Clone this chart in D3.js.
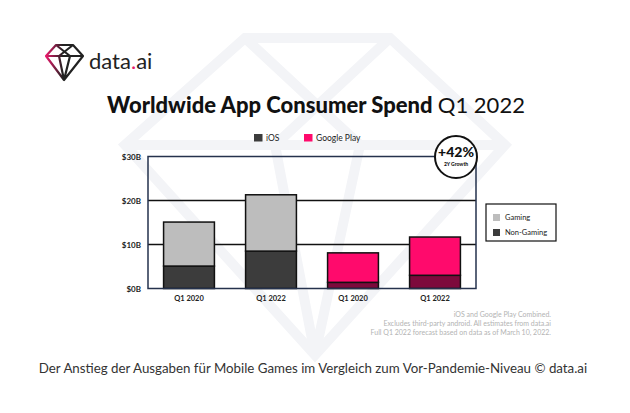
<!DOCTYPE html>
<html>
<head>
<meta charset="utf-8">
<script src="https://cdn.jsdelivr.net/npm/d3@7"></script>
<style>
  body { margin: 0; background: #fff; }
  svg { display: block; }
</style>
</head>
<body>
<div id="main"></div>
<script>
// values, in billions USD
var platforms = ["iOS", "iOS", "Google Play", "Google Play"];
var quarters = ["Q1 2020", "Q1 2022", "Q1 2020", "Q1 2022"];
var nonGaming = [5.1, 8.5, 1.4, 3.0];
var gaming = [10.0, 12.8, 6.7, 8.7];
var yTicks = [0, 10, 20, 30];
var yTickLabels = ["$0B", "$10B", "$20B", "$30B"];
var notes = [
    "iOS and Google Play Combined.",
    "Excludes third-party android. All estimates from data.ai",
    "Full Q1 2022 forecast based on data as of March 10, 2022."
];

var colors = {
    "iOS": { gaming: "#bdbdbd", nonGaming: "#3c3c3c" },
    "Google Play": { gaming: "#ff0a6c", nonGaming: "#7d0a3c" }
};

var width = 630, height = 413;
var plot = {left: 148, right: 476, top: 156.5, bottom: 288.5};

var svg = d3.select("#main")
    .append("svg")
    .attr("width", width)
    .attr("height", height);

// faint diamond watermark behind everything
var wm = svg.append("g")
    .attr("fill", "none")
    .attr("stroke", "#f3f4f7")
    .attr("stroke-width", 10)
    .attr("stroke-linejoin", "miter");
wm.append("path").attr("d", "M245,38L390,38L505,145L315,355L125,145Z");
wm.append("path").attr("d", "M245,38L360,145M390,38L275,145M125,145L505,145M275,145L315,355M360,145L315,355");

// logo
var logo = svg.append("g").attr("transform", "translate(46,45)");
var grad = svg.append("defs").append("linearGradient")
    .attr("id", "logoGrad").attr("x1", "0").attr("x2", "1");
grad.append("stop").attr("offset", "0").attr("stop-color", "#e8196a");
grad.append("stop").attr("offset", "0.45").attr("stop-color", "#222");
logo.append("path")
    .attr("d", "M10,0L27,0L37,11L18,35L0,11Z M10,0L24,11L18,35 M27,0L13,11L18,35 M0,11L37,11")
    .attr("fill", "none")
    .attr("stroke", "url(#logoGrad)")
    .attr("stroke-width", 2.2)
    .attr("stroke-linejoin", "round");
var logoText = svg.append("text")
    .attr("x", 89).attr("y", 69)
    .attr("font-family", "Lato, 'Open Sans', sans-serif")
    .attr("font-size", 22)
    .attr("fill", "#222");
logoText.append("tspan").text("data");
logoText.append("tspan").attr("fill", "#e8196a").text(".");
logoText.append("tspan").text("ai");

// title
var title = svg.append("text")
    .attr("x", 316).attr("y", 113)
    .attr("text-anchor", "middle")
    .attr("font-family", "Lato, 'Open Sans', sans-serif")
    .attr("font-size", 22)
    .attr("fill", "#111");
title.append("tspan").attr("font-weight", 900).text("Worldwide App Consumer Spend ");
title.append("tspan").attr("font-weight", 400).text("Q1 2022");

// scales
var x = d3.scaleBand()
    .domain(d3.range(quarters.length))
    .range([plot.left, plot.right])
    .paddingInner(0.38)
    .paddingOuter(0.19);

var y = d3.scaleLinear()
    .domain([0, 30])
    .range([plot.bottom, plot.top]);

// gridlines
svg.append("g").selectAll("line")
    .data(yTicks.slice(1, 3))
    .enter().append("line")
    .attr("x1", plot.left).attr("x2", plot.right)
    .attr("y1", function(d) { return y(d); })
    .attr("y2", function(d) { return y(d); })
    .attr("stroke", "#111")
    .attr("stroke-width", 1.5);

// y axis labels
svg.append("g").selectAll("text")
    .data(yTicks)
    .enter().append("text")
    .attr("x", 141)
    .attr("y", function(d) { return y(d) + 3; })
    .attr("text-anchor", "end")
    .attr("font-family", "Lato, sans-serif")
    .attr("font-weight", 700)
    .attr("font-size", 8)
    .attr("fill", "#222")
    .text(function(d, i) { return yTickLabels[i]; });

// stacked bars
var rows = quarters.map(function(q, i) {
    return {i: i, platform: platforms[i], nonGaming: nonGaming[i], gaming: gaming[i]};
});
var stack = d3.stack().keys(["nonGaming", "gaming"]);
var series = stack(rows);

svg.append("g").selectAll("g")
    .data(series)
    .enter().append("g")
    .each(function(s) {
        d3.select(this).selectAll("rect")
            .data(s)
            .enter().append("rect")
            .attr("x", function(d) { return x(d.data.i); })
            .attr("width", x.bandwidth())
            .attr("y", function(d) { return y(d[1]); })
            .attr("height", function(d) { return y(d[0]) - y(d[1]); })
            .attr("fill", function(d) { return colors[d.data.platform][s.key]; })
            .attr("stroke", "#111")
            .attr("stroke-width", 1.5);
    });

// frame: left axis, top, right and baseline
svg.append("path")
    .attr("d", "M" + plot.left + "," + plot.top + "V" + plot.bottom + "H" + plot.right + "V" + plot.top + "Z")
    .attr("fill", "none")
    .attr("stroke", "#25324d")
    .attr("stroke-width", 1.5);

// category labels
svg.append("g").selectAll("text")
    .data(quarters)
    .enter().append("text")
    .attr("x", function(d, i) { return x(i) + x.bandwidth() / 2; })
    .attr("y", 301)
    .attr("text-anchor", "middle")
    .attr("font-family", "Lato, sans-serif")
    .attr("font-weight", 700)
    .attr("font-size", 7.5)
    .attr("fill", "#222")
    .text(function(d) { return d; });

// top legend (platforms)
var platLegend = [
    {name: "iOS", color: colors["iOS"].nonGaming, x: 254},
    {name: "Google Play", color: colors["Google Play"].gaming, x: 304}
];
var pl = svg.append("g").selectAll("g")
    .data(platLegend)
    .enter().append("g")
    .attr("transform", function(d) { return "translate(" + d.x + ",134)"; });
pl.append("rect").attr("width", 8.5).attr("height", 7.5).attr("fill", function(d) { return d.color; });
pl.append("text")
    .attr("x", 12).attr("y", 7)
    .attr("font-family", "Lato, sans-serif")
    .attr("font-size", 8.5)
    .attr("fill", "#222")
    .text(function(d) { return d.name; });

// growth badge
var badge = svg.append("g").attr("transform", "translate(456,157)");
badge.append("circle").attr("r", 21).attr("fill", "#fff").attr("stroke", "#111").attr("stroke-width", 2);
badge.append("text")
    .attr("y", 0).attr("text-anchor", "middle")
    .attr("font-family", "Lato, sans-serif").attr("font-weight", 900)
    .attr("font-size", 14).attr("fill", "#111")
    .text("+42%");
badge.append("text")
    .attr("y", 9).attr("text-anchor", "middle")
    .attr("font-family", "Lato, sans-serif").attr("font-weight", 900)
    .attr("font-size", 5).attr("fill", "#111")
    .text("2Y Growth");

// right legend (gaming / non-gaming)
var legBox = svg.append("g").attr("transform", "translate(486,204)");
legBox.append("rect")
    .attr("width", 70).attr("height", 37)
    .attr("fill", "#fff").attr("stroke", "#111").attr("stroke-width", 1.2);
var typeLegend = [
    {name: "Gaming", color: colors["iOS"].gaming},
    {name: "Non-Gaming", color: colors["iOS"].nonGaming}
];
var tl = legBox.selectAll("g")
    .data(typeLegend)
    .enter().append("g")
    .attr("transform", function(d, i) { return "translate(7," + (10 + i * 15) + ")"; });
tl.append("rect").attr("width", 7).attr("height", 7).attr("fill", function(d) { return d.color; });
tl.append("text")
    .attr("x", 12).attr("y", 6)
    .attr("font-family", "Lato, sans-serif")
    .attr("font-size", 7.5)
    .attr("fill", "#222")
    .text(function(d) { return d.name; });

// footnotes
svg.append("g").selectAll("text")
    .data(notes)
    .enter().append("text")
    .attr("x", 551)
    .attr("y", function(d, i) { return 317 + i * 8.8; })
    .attr("text-anchor", "end")
    .attr("font-family", "Lato, sans-serif")
    .attr("font-size", 7)
    .attr("fill", "#b3b3b3")
    .text(function(d) { return d; });

// caption
svg.append("text")
    .attr("x", 313).attr("y", 373)
    .attr("text-anchor", "middle")
    .attr("font-family", "Lato, 'Open Sans', sans-serif")
    .attr("font-size", 13.3)
    .attr("fill", "#333")
    .text("Der Anstieg der Ausgaben für Mobile Games im Vergleich zum Vor-Pandemie-Niveau © data.ai");
</script>
</body>
</html>
